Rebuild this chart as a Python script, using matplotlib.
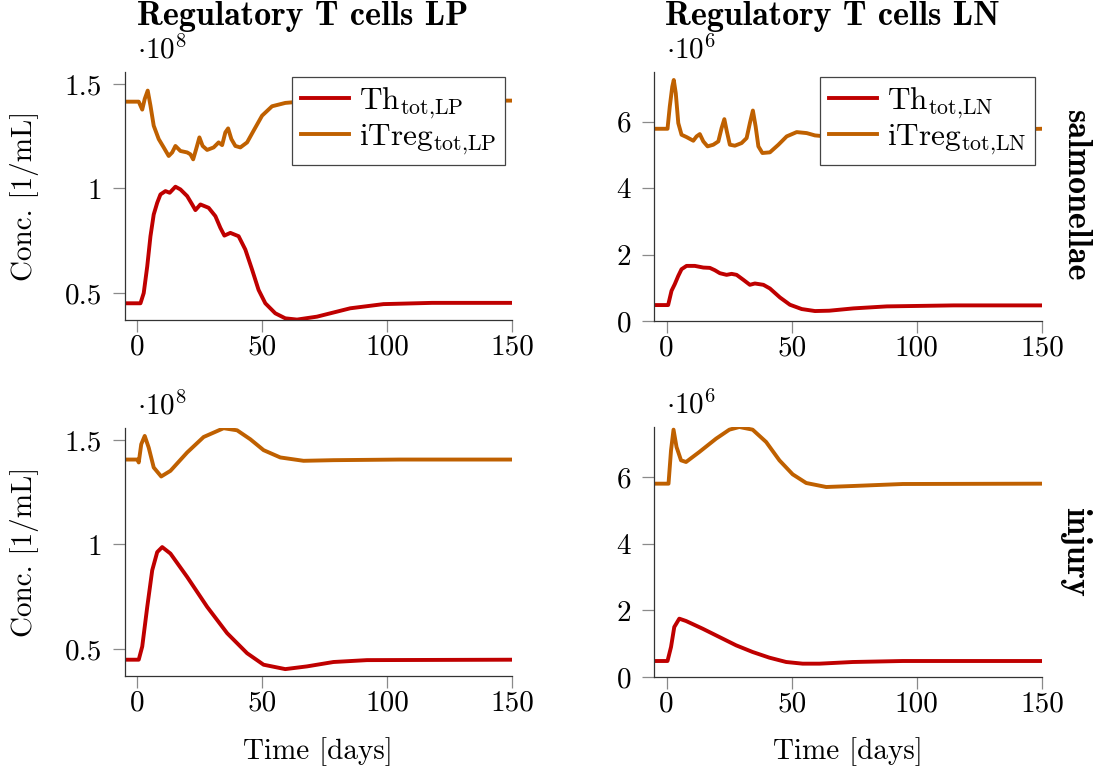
import matplotlib
matplotlib.use("Agg")
import matplotlib.pyplot as plt

plt.rcParams['font.family'] = 'cmr10'
plt.rcParams['mathtext.fontset'] = 'cm'
plt.rcParams['axes.formatter.use_mathtext'] = True
plt.rcParams['axes.unicode_minus'] = False

# values (LP in 1e8 /mL, LN in 1e6 /mL)
t_th_lp_s = [-5, 1.2, 2.5, 3.9, 5.2, 6.5, 7.9, 9.2, 11.2, 12.9, 15.2, 17.2, 19.9, 21.9, 23.2, 25.2, 28.5,
             31.2, 33.2, 34.8, 37.2, 40.5, 43.2, 45.9, 48.5, 51.2, 55.2, 59.2, 63.9, 71.9, 85.2, 98.5, 118, 150]
th_lp_s = [0.45, 0.45, 0.499, 0.626, 0.771, 0.875, 0.931, 0.971, 0.987, 0.979, 1.008, 0.995, 0.963, 0.923,
           0.896, 0.923, 0.907, 0.867, 0.811, 0.774, 0.787, 0.771, 0.707, 0.611, 0.514, 0.45, 0.402, 0.378,
           0.372, 0.386, 0.426, 0.446, 0.452, 0.452]

t_it_lp_s = [-5, 0.5, 1.9, 2.9, 4.1, 5.2, 6.5, 8.5, 10.5, 12.5, 13.9, 15.2, 17.2, 19.9, 21.2, 22.3, 23.5,
             24.8, 26.1, 27.9, 30.5, 32.5, 33.9, 35.2, 36.3, 37.6, 39.2, 41.2, 43.9, 46.5, 49.9, 53.9, 59.2,
             70, 150]
it_lp_s = [1.415, 1.415, 1.377, 1.428, 1.468, 1.396, 1.30, 1.236, 1.196, 1.155, 1.172, 1.203, 1.179, 1.172,
           1.163, 1.139, 1.188, 1.244, 1.203, 1.184, 1.196, 1.22, 1.207, 1.268, 1.287, 1.236, 1.203, 1.196,
           1.22, 1.276, 1.348, 1.393, 1.409, 1.42, 1.42]

t_th_lp_i = [-5, 0.5, 1.9, 3.9, 5.9, 7.9, 9.9, 13.2, 19.9, 27.9, 35.9, 43.9, 50.5, 59.2, 67.9, 78.5, 91.9, 150]
th_lp_i = [0.448, 0.448, 0.511, 0.70, 0.876, 0.963, 0.987, 0.956, 0.844, 0.701, 0.575, 0.479, 0.424, 0.403,
           0.416, 0.437, 0.446, 0.448]

t_it_lp_i = [-5, 0, 0.5, 1.5, 2.9, 4.5, 6.5, 9.5, 13.2, 19.9, 26.5, 34.5, 39.9, 45.2, 50.5, 57.2, 66.5, 78.5, 105, 150]
it_lp_i = [1.406, 1.406, 1.392, 1.479, 1.519, 1.463, 1.368, 1.325, 1.352, 1.44, 1.514, 1.556, 1.546, 1.503,
           1.451, 1.416, 1.40, 1.403, 1.406, 1.406]

t_th_ln_s = [-5, 0.65, 2.0, 3.3, 4.7, 6.0, 8.0, 11.3, 14.7, 17.3, 19.3, 21.3, 24, 26, 28, 30.7, 33.3, 35.3,
             38.7, 41.3, 45.3, 49.3, 54, 59.3, 65, 74.7, 88, 114.7, 150]
th_ln_s = [0.48, 0.48, 0.91, 1.11, 1.36, 1.56, 1.66, 1.66, 1.61, 1.60, 1.53, 1.44, 1.39, 1.42, 1.39, 1.24,
           1.09, 1.13, 1.09, 0.98, 0.71, 0.49, 0.36, 0.30, 0.31, 0.38, 0.44, 0.47, 0.47]

t_it_ln_s = [-5, 0.4, 1.3, 2.3, 2.9, 3.7, 4.7, 6.0, 8.0, 10.7, 12.0, 13.3, 14.7, 16.4, 18.7, 20.7, 22.0, 23.1,
             24.1, 25.3, 27.3, 30, 32, 33.3, 34.5, 35.6, 36.7, 38.3, 41.3, 44.7, 48.0, 52.0, 56.0, 59.3, 65,
             80, 150]
it_ln_s = [5.79, 5.79, 6.46, 7.06, 7.26, 6.86, 5.96, 5.61, 5.54, 5.43, 5.56, 5.63, 5.41, 5.26, 5.31, 5.41,
           5.81, 6.08, 5.71, 5.31, 5.28, 5.36, 5.51, 5.96, 6.34, 5.86, 5.26, 5.06, 5.08, 5.31, 5.56, 5.69,
           5.66, 5.59, 5.55, 5.7, 5.79]

t_th_ln_i = [-5, 0.4, 1.8, 3.1, 5.1, 7.8, 14.4, 21.1, 27.8, 34.4, 41.1, 47.8, 54.4, 61.1, 74.4, 94.4, 150]
th_ln_i = [0.48, 0.48, 0.9, 1.5, 1.75, 1.68, 1.45, 1.2, 0.95, 0.75, 0.58, 0.45, 0.40, 0.40, 0.45, 0.48, 0.48]

t_it_ln_i = [-5, 0.8, 1.8, 2.8, 4, 5.8, 7.8, 13.1, 19.8, 25.1, 29.1, 34.4, 39.8, 45.1, 50.4, 55.8, 63.8,
             74.4, 94.4, 150]
it_ln_i = [5.8, 5.8, 6.8, 7.42, 6.9, 6.5, 6.45, 6.75, 7.15, 7.42, 7.5, 7.42, 7.05, 6.5, 6.08, 5.82, 5.70,
           5.73, 5.79, 5.8]

red = '#bf0000'
orange = '#bf6000'
fs = 21

fig = plt.figure(figsize=(11.05, 7.8), dpi=100)
W, H = 1105, 780

def make_ax(left, top, right, bottom):
    return fig.add_axes([left / W, 1 - bottom / H, (right - left) / W, (bottom - top) / H])

ax_tl = make_ax(125, 72, 512, 320)
ax_tr = make_ax(654, 72, 1042, 321)
ax_bl = make_ax(125, 428, 512, 676)
ax_br = make_ax(654, 427, 1042, 677)

panels = [
    (ax_tl, t_th_lp_s, th_lp_s, t_it_lp_s, it_lp_s, 'LP'),
    (ax_tr, t_th_ln_s, th_ln_s, t_it_ln_s, it_ln_s, 'LN'),
    (ax_bl, t_th_lp_i, th_lp_i, t_it_lp_i, it_lp_i, 'LP'),
    (ax_br, t_th_ln_i, th_ln_i, t_it_ln_i, it_ln_i, 'LN'),
]

for ax, t1, y1, t2, y2, comp in panels:
    ax.plot(t1, y1, color=red, lw=2.8, solid_joinstyle='round',
            label=r'$\mathrm{Th}_{\mathrm{tot{,}%s}}$' % comp)
    ax.plot(t2, y2, color=orange, lw=2.8, solid_joinstyle='round',
            label=r'$\mathrm{iTreg}_{\mathrm{tot{,}%s}}$' % comp)
    ax.set_xlim(-5, 150)
    ax.set_xticks([0, 50, 100, 150])
    ax.set_xticklabels(['0', '50', '100', '150'])
    for s in ['top', 'right']:
        ax.spines[s].set_visible(False)
    for s in ['left', 'bottom']:
        ax.spines[s].set_color('#333333')
        ax.spines[s].set_linewidth(0.9)
    ax.tick_params(axis='both', labelsize=fs, color='#8a8a8a', width=0.9, length=8.5, direction='out')
    ax.tick_params(axis='y', pad=8)
    ax.tick_params(axis='x', pad=2)
    if comp == 'LP':
        ax.set_ylim(0.37, 1.557)
        ax.set_yticks([0.5, 1, 1.5])
        ax.set_yticklabels(['0.5', '1', '1.5'])
        ax.text(0.031, 1.03, r'$\cdot 10^{8}$', transform=ax.transAxes, fontsize=fs, va='bottom')
    else:
        ax.set_ylim(0, 7.5)
        ax.set_yticks([0, 2, 4, 6])
        ax.set_yticklabels(['0', '2', '4', '6'])
        ax.text(0.031, 1.03, r'$\cdot 10^{6}$', transform=ax.transAxes, fontsize=fs, va='bottom')

for ax in [ax_tl, ax_tr]:
    leg = ax.legend(loc='upper right', bbox_to_anchor=(0.982, 0.98), borderaxespad=0,
                    fontsize=22.5, frameon=True, fancybox=False, framealpha=1,
                    edgecolor='#444444', handlelength=1.55, handletextpad=0.3,
                    labelspacing=0.05, borderpad=0.28)
    leg.get_frame().set_linewidth(0.9)

tfs = 24.5
fig.text(303 / W, 1 - 25 / H, 'Regulatory T cells LP', fontfamily='cmb10', fontsize=tfs,
         ha='center', va='baseline')
fig.text(832 / W, 1 - 25 / H, 'Regulatory T cells LN', fontfamily='cmb10', fontsize=tfs,
         ha='center', va='baseline')

fig.text(1075 / W, 1 - 196 / H, 'salmonellae', fontfamily='cmb10', fontsize=tfs,
         rotation=-90, ha='center', va='center')
fig.text(1075 / W, 1 - 552 / H, 'injury', fontfamily='cmb10', fontsize=tfs,
         rotation=-90, ha='center', va='center')

fig.text(25 / W, 1 - 196 / H, 'Conc. [1/mL]', fontsize=fs, rotation=90, ha='center', va='center')
fig.text(25 / W, 1 - 552 / H, 'Conc. [1/mL]', fontsize=fs, rotation=90, ha='center', va='center')

fig.text(318 / W, 1 - 752 / H, 'Time [days]', fontsize=fs, ha='center', va='center')
fig.text(848 / W, 1 - 752 / H, 'Time [days]', fontsize=fs, ha='center', va='center')

fig.savefig('out.png', dpi=100)
